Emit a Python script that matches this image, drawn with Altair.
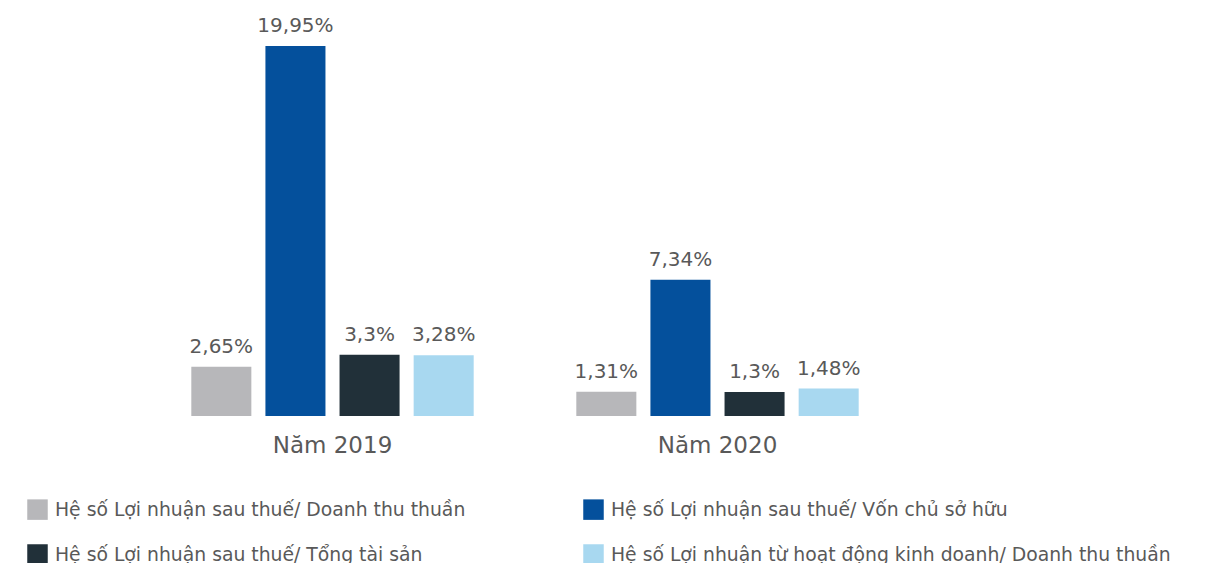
import altair as alt
import pandas as pd

years = ["Năm 2019", "Năm 2020"]
metrics = [
    "Hệ số Lợi nhuận sau thuế/ Doanh thu thuần",
    "Hệ số Lợi nhuận sau thuế/ Vốn chủ sở hữu",
    "Hệ số Lợi nhuận sau thuế/ Tổng tài sản",
    "Hệ số Lợi nhuận từ hoạt động kinh doanh/ Doanh thu thuần",
]
values_2019 = [2.65, 19.95, 3.3, 3.28]
values_2020 = [1.31, 7.34, 1.3, 1.48]
colors = ["#b7b7ba", "#04509c", "#213039", "#a8d8f0"]

rows = []
for y, vals in zip(years, [values_2019, values_2020]):
    for i, (m, v) in enumerate(zip(metrics, vals)):
        rows.append({"year": y, "metric": m, "order": i, "value": v,
                     "label": f"{v:g}".replace(".", ",") + "%"})
df = pd.DataFrame(rows)

# legend is laid out column by column: put entries so rows read gray, blue / dark, light
legend_order = [0, 2, 1, 3]
legend_domain = [metrics[i] for i in legend_order]
legend_range = [colors[i] for i in legend_order]

FONT = "DejaVu Sans"
TXT = "#595959"

base = alt.Chart(df).encode(
    x=alt.X("year:N", sort=years, title=None,
            scale=alt.Scale(paddingInner=0.23, paddingOuter=0.115),
            axis=alt.Axis(domain=False, ticks=False, labelFontSize=23, labelColor=TXT,
                          labelFont=FONT, labelPadding=18, labelAngle=0)),
    xOffset=alt.XOffset("metric:N", sort=metrics,
                        scale=alt.Scale(paddingInner=0.19, paddingOuter=0.095)),
)

bars = base.mark_bar().encode(
    y=alt.Y("value:Q", scale=alt.Scale(domain=[0, 20], nice=False), axis=None),
    color=alt.Color("metric:N",
                    scale=alt.Scale(domain=legend_domain, range=legend_range),
                    legend=alt.Legend(title=None, orient="none", legendX=-113, legendY=454,
                                      columns=2, columnPadding=117, rowPadding=24,
                                      symbolType="square", symbolSize=420,
                                      symbolStrokeWidth=0, labelFontSize=18.8,
                                      labelFont=FONT, labelColor=TXT, labelOffset=7,
                                      labelLimit=600)),
)

labels = base.mark_text(baseline="bottom", dy=-10, fontSize=20, font=FONT, color=TXT).encode(
    y=alt.Y("value:Q"),
    text="label:N",
)

chart = (bars + labels).properties(
    width=770, height=371,
    autosize=alt.AutoSizeParams(type="none"),
    padding={"left": 132, "top": 37, "right": 306, "bottom": 147},
).configure(background="white", view=alt.ViewConfig(stroke="transparent", strokeWidth=0))

chart.save("out.html", embed_options={"renderer": "svg", "actions": False})
